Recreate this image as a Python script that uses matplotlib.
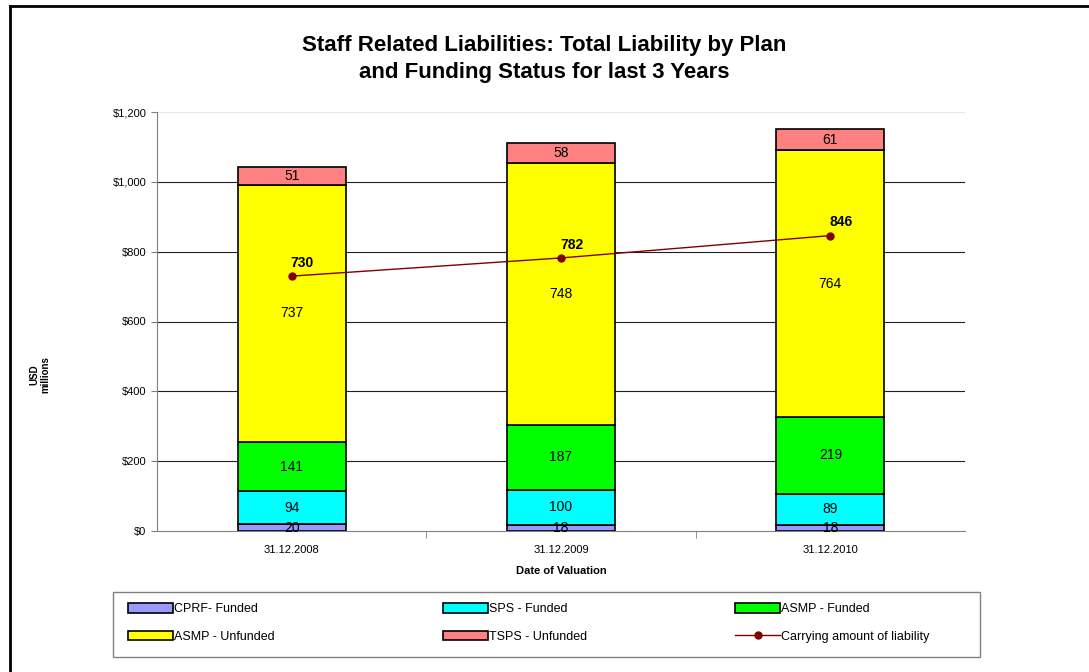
import matplotlib
matplotlib.use("Agg")
import matplotlib.pyplot as plt
import numpy as np
from matplotlib.lines import Line2D
from matplotlib.patches import Rectangle

plt.rcParams['font.family'] = ['Liberation Sans', 'DejaVu Sans']

# data
dates = ["31.12.2008", "31.12.2009", "31.12.2010"]
cprf_funded = [20, 18, 18]
sps_funded = [94, 100, 89]
asmp_funded = [141, 187, 219]
asmp_unfunded = [737, 748, 764]
tsps_unfunded = [51, 58, 61]
carrying_amount = [730, 782, 846]

series = [
    ("CPRF- Funded", cprf_funded, "#9999ff"),
    ("SPS - Funded", sps_funded, "#00ffff"),
    ("ASMP - Funded", asmp_funded, "#00ff00"),
    ("ASMP - Unfunded", asmp_unfunded, "#ffff00"),
    ("TSPS - Unfunded", tsps_unfunded, "#ff8080"),
]

W, H = 1089, 672
fig = plt.figure(figsize=(W / 100, H / 100), dpi=100)
ax = fig.add_axes([157 / W, 1 - 531 / H, (965 - 157) / W, (531 - 112) / H])

x = np.arange(len(dates))
bottom = np.zeros(len(dates))
handles = []
for name, vals, col in series:
    bars = ax.bar(x, vals, width=0.40, bottom=bottom, color=col,
                  edgecolor="black", linewidth=1.2, label=name, zorder=3)
    for xi, b, v in zip(x, bottom, vals):
        ax.text(xi, b + v / 2, str(v), ha="center", va="center", fontsize=10, zorder=5)
    bottom += np.array(vals)
    handles.append(bars)

line, = ax.plot(x, carrying_amount, color="#800000", marker="o", markersize=5,
                linewidth=1.0, zorder=4, label="Carrying amount of liability")
for xi, v in zip(x, carrying_amount):
    ax.text(xi + 0.04, v + 18, str(v), ha="center", va="bottom", fontsize=10,
            fontweight="bold", zorder=5)

ax.set_xlim(-0.5, 2.5)
ax.set_ylim(0, 1200)
yt = np.arange(0, 1201, 200)
ax.set_yticks(yt)
ax.set_yticklabels(["${:,}".format(v) for v in yt], fontsize=8)
ax.set_xticks(x)
ax.set_xticklabels(dates, fontsize=8)
ax.set_xticks([0.5, 1.5], minor=True)
ax.tick_params(axis="x", which="major", length=0, pad=10)
ax.tick_params(axis="x", which="minor", length=5, color="#808080")
ax.tick_params(axis="y", length=4, color="#808080")
for v in yt[1:-1]:
    ax.axhline(v, color="#202020", linewidth=0.8, zorder=0)
ax.axhline(1200, color="#e8e8e8", linewidth=0.8, zorder=0)
for s in ["top", "right"]:
    ax.spines[s].set_visible(False)
ax.spines["left"].set_color("#808080")
ax.spines["bottom"].set_color("#808080")

ax.set_xlabel("Date of Valuation", fontsize=8, fontweight="bold", labelpad=8)
fig.text(40 / W, 1 - 375 / H, "USD\nmillions", rotation=90, ha="center",
         va="center", fontsize=7, fontweight="bold")
fig.text(0.5, 1 - 59 / H,
         "Staff Related Liabilities: Total Liability by Plan\nand Funding Status for last 3 Years",
         ha="center", va="center", fontsize=16, fontweight="bold", linespacing=1.4)

# legend: frame plus one small legend per column, rows read left to right
fig.add_artist(Rectangle((113 / W, 1 - 657 / H), (980 - 113) / W, 65 / H,
                         transform=fig.transFigure, fill=False,
                         edgecolor="#808080", linewidth=1.0))
h = handles + [line]
labels = [s[0] for s in series] + ["Carrying amount of liability"]
col_x = [128, 443, 735]
for c, cx in enumerate(col_x):
    idx = [c, c + 3]
    fig.legend([h[i] for i in idx], [labels[i] for i in idx], loc="upper left",
               bbox_to_anchor=(cx / W, 1 - 603 / H), frameon=False, fontsize=9,
               handlelength=3.6, handleheight=0.8, handletextpad=0.1,
               borderpad=0, borderaxespad=0, labelspacing=1.25)

# outer chart frame (top and left edges visible)
fig.add_artist(Line2D([10 / W, 1], [1 - 6 / H, 1 - 6 / H], color="black", linewidth=2))
fig.add_artist(Line2D([10 / W, 10 / W], [0, 1 - 6 / H], color="black", linewidth=2))

fig.savefig("out.png", dpi=100)
